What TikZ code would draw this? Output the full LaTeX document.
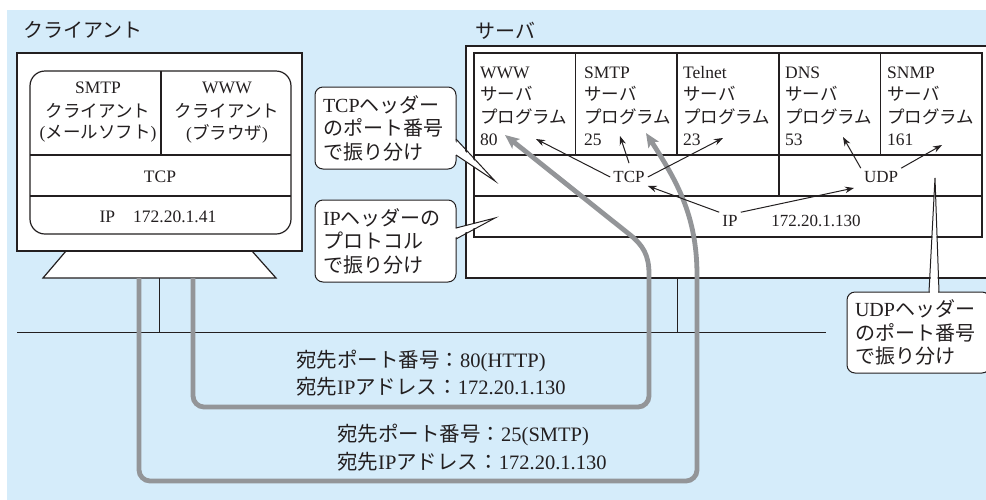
\documentclass[tikz,border=0pt]{standalone}
\usepackage{fontspec}
\setmainfont{Liberation Serif}
\newfontfamily\jp{Noto Sans CJK JP}
\usetikzlibrary{arrows.meta}
\definecolor{bgblue}{RGB}{213,236,250}
\definecolor{pathgray}{RGB}{147,149,152}
\definecolor{ink}{RGB}{35,31,32}
\newcommand\J[1]{{\jp #1}}
\begin{document}
\begin{tikzpicture}[x=1pt,y=-1pt,
  every node/.style={text=ink, inner sep=0pt},
  lbl/.style={font=\fontsize{20}{24}\selectfont, anchor=west},
  coltext/.style={font=\fontsize{17.5}{21}\selectfont, anchor=west},
  cltext/.style={font=\fontsize{17.5}{21}\selectfont},
  layertext/.style={font=\fontsize{17}{20}\selectfont, inner sep=3pt},
  boxline/.style={draw=ink, line width=1.2pt},
  inkline/.style={draw=ink, line width=1pt},
  blackarrow/.style={draw=ink, line width=1pt, -{Stealth[length=9pt,width=6.5pt]}},
  route/.style={draw=pathgray, line width=4.8pt, -{Stealth[length=14pt,width=12pt,inset=3pt]}},
  note/.style={draw=ink, line width=1pt, fill=white, rounded corners=8pt,
    font=\fontsize{20}{23.5}\selectfont, align=left, inner sep=0pt},
  desttext/.style={font=\fontsize{20.5}{26}\selectfont, anchor=west},
]
\useasboundingbox (0,0) rectangle (986,499);
\fill[bgblue] (7,10) rectangle (992,505);

% labels
\node[lbl] (clientlabel) at (23,30) {\J{クライアント}};
\node[lbl] (serverlabel) at (475,31) {\J{サーバ}};

% client
\draw[boxline, fill=white] (66,251) -- (252,251) -- (276,278) -- (43,278) -- cycle;
\draw[boxline, fill=white] (17,53) rectangle (302,251);
\draw[boxline, rounded corners=15pt] (30,71) rectangle (291,234);
\draw[boxline] (161,71) -- (161,155);
\draw[boxline] (30,155) -- (291,155);
\draw[boxline] (30,196) -- (291,196);
\node[cltext] (smtpc1) at (98,88) {SMTP};
\node[cltext] (smtpc2) at (98,111) {\J{クライアント}};
\node[cltext] (smtpc3) at (98,134) {(\J{メールソフト})};
\node[cltext] (wwwc1) at (227,88) {WWW};
\node[cltext] (wwwc2) at (227,111) {\J{クライアント}};
\node[cltext] (wwwc3) at (227,134) {(\J{ブラウザ})};
\node[cltext] (ctcp) at (160,177) {TCP};
\node[cltext] (cip) at (158,217) {IP\hspace{18pt}172.20.1.41};

% server box
\draw[boxline, fill=white] (466,46) rectangle (995,278);

% callout wedges (white)
\fill[white] (455,139) -- (495,181) -- (455,155) -- cycle;
\fill[white] (455,228) -- (495,218) -- (455,239) -- cycle;
\fill[white] (929,293) -- (935,178) -- (939,293) -- cycle;

% server lines
\draw[boxline] (466,46) rectangle (995,278);
\draw[boxline] (474,53) rectangle (982,237);
\foreach \x in {575.5,677,779,880.5} \draw[boxline] (\x,53) -- (\x,155);
\draw[boxline] (474,155) -- (982,155);
\draw[boxline] (474,196) -- (982,196);
\draw[boxline] (779,155) -- (779,196);

\foreach \x/\name/\port [count=\i] in {480/WWW/80, 584/SMTP/25, 683/Telnet/23, 785/DNS/53, 887/SNMP/161} {
  \node[coltext] (col\i name) at (\x,73) {\name};
  \node[coltext] (col\i srv) at (\x,94) {\J{サーバ}};
  \node[coltext] (col\i prg) at (\x,117) {\J{プログラム}};
  \node[coltext] (col\i port) at (\x,140) {\port};
}

\node[layertext] (tcp) at (629,177) {TCP};
\node[layertext] (udp) at (881,177) {UDP};
\node[layertext] (ip) at (730,221) {IP};
\node[layertext, inner sep=0pt] (ipaddr) at (816,221) {172.20.1.130};

% network
\draw[inkline] (17,332) -- (826,332);
\draw[inkline] (159,278) -- (159,332);
\draw[inkline] (677,278) -- (677,332);

% callouts
\node[note, minimum width=141pt, minimum height=82pt, text width=125pt] (tcpnote) at (385.5,128)
  {TCP\J{ヘッダー}\\\J{のポート番号}\\\J{で振り分け}};
\node[note, minimum width=141pt, minimum height=82pt, text width=125pt] (ipnote) at (385.5,241)
  {IP\J{ヘッダーの}\\\J{プロトコル}\\\J{で振り分け}};
\node[note, minimum width=143pt, minimum height=81pt, text width=127pt] (udpnote) at (918.5,332.5)
  {UDP\J{ヘッダー}\\\J{のポート番号}\\\J{で振り分け}};
\fill[white] (454,140) -- (495,181) -- (454,154) -- cycle;
\fill[white] (454,229) -- (495,218) -- (454,238) -- cycle;
\fill[white] (930,294) -- (935,178) -- (938,294) -- cycle;
\draw[inkline] (456,139) -- (495,181) -- (456,155);
\draw[inkline] (456,228) -- (495,218) -- (456,239);
\draw[inkline] (929,292) -- (935,178) -- (939,292);

% gray routes
\coordinate (c80tip) at (505,135);
\coordinate (c25tip) at (646,133);
\draw[route] (193,278) -- (193,396) .. controls (193,402) and (198,407) .. (204,407)
  -- (638,407) .. controls (644,407) and (649,402) .. (649,396)
  -- (649,274) .. controls (649,255) and (643,245) .. (629,234) -- (c80tip);
\draw[route] (139,278) -- (139,470) .. controls (139,476) and (144,481) .. (150,481)
  -- (686,481) .. controls (692,481) and (697,476) .. (697,470)
  -- (697,275) .. controls (697,215) and (676,180) .. (c25tip);

% black arrows
\coordinate (t80) at (536,139);
\coordinate (t25) at (620,136);
\coordinate (t23) at (723,138);
\coordinate (t53) at (843,137);
\coordinate (t161) at (942,145);
\coordinate (udpin) at (854,188);
\draw[blackarrow] (tcp.west) -- (t80);
\draw[blackarrow] ([yshift=5pt]tcp.north) -- (t25);
\draw[blackarrow] (tcp.east) -- (t23);
\draw[blackarrow] (ip.north west) -- (tcp.south east);
\draw[blackarrow] (ip.north east) -- (udpin);
\draw[blackarrow] (udp.north west) -- (t53);
\draw[blackarrow] (udp.north east) -- (t161);

% destination texts
\node[desttext] (http1) at (296,361) {\J{宛先ポート番号：}80(HTTP)};
\node[desttext] (http2) at (296,387) {\J{宛先}IP\J{アドレス：}172.20.1.130};
\node[desttext] (smtp1) at (337,435) {\J{宛先ポート番号：}25(SMTP)};
\node[desttext] (smtp2) at (337,462) {\J{宛先}IP\J{アドレス：}172.20.1.130};
\end{tikzpicture}
\end{document}
